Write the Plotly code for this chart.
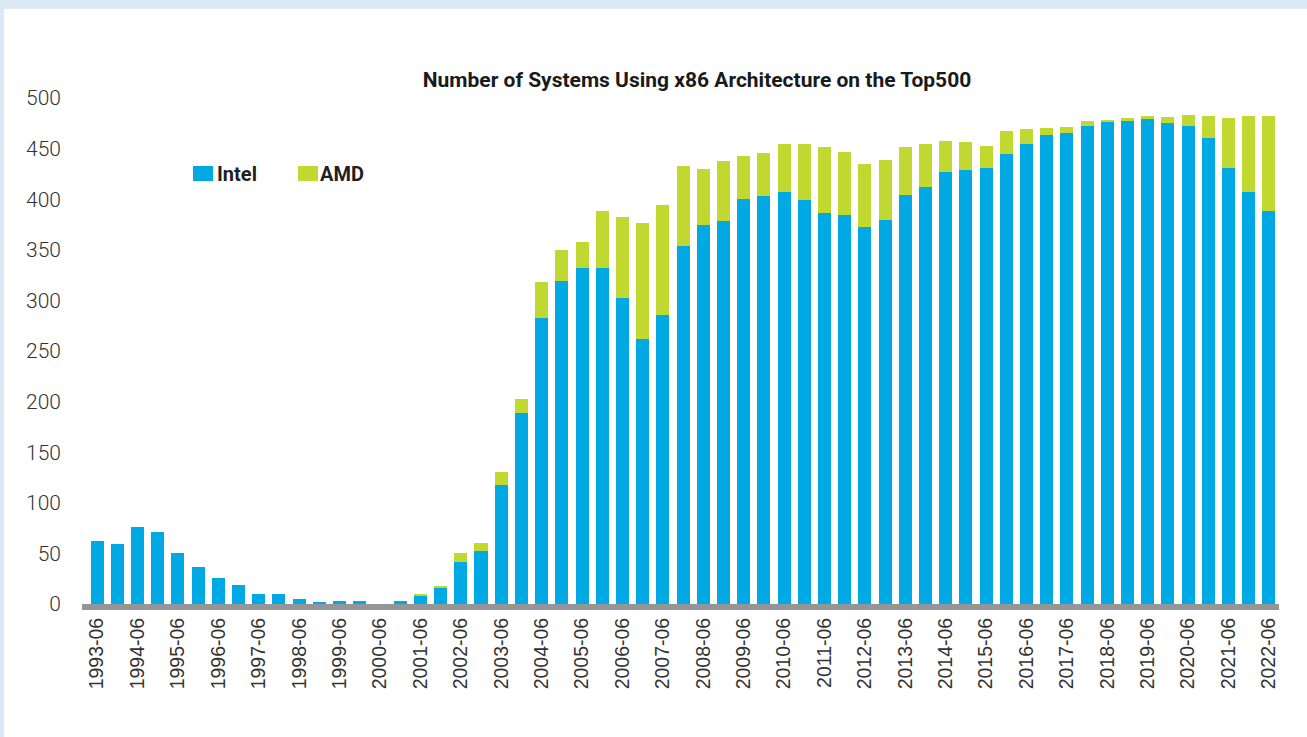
import plotly.graph_objects as go

periods = [
    "1993-06", "1993-11", "1994-06", "1994-11", "1995-06", "1995-11", "1996-06", "1996-11",
    "1997-06", "1997-11", "1998-06", "1998-11", "1999-06", "1999-11", "2000-06", "2000-11",
    "2001-06", "2001-11", "2002-06", "2002-11", "2003-06", "2003-11", "2004-06", "2004-11",
    "2005-06", "2005-11", "2006-06", "2006-11", "2007-06", "2007-11", "2008-06", "2008-11",
    "2009-06", "2009-11", "2010-06", "2010-11", "2011-06", "2011-11", "2012-06", "2012-11",
    "2013-06", "2013-11", "2014-06", "2014-11", "2015-06", "2015-11", "2016-06", "2016-11",
    "2017-06", "2017-11", "2018-06", "2018-11", "2019-06", "2019-11", "2020-06", "2020-11",
    "2021-06", "2021-11", "2022-06",
]

intel = [
    62, 59, 76, 71, 50, 37, 26, 19, 10, 10,
    5, 2, 3, 3, 0, 3, 8, 16, 42, 52,
    118, 189, 283, 319, 332, 332, 302, 262, 286, 354,
    375, 378, 400, 403, 407, 399, 386, 384, 373, 379,
    404, 412, 427, 429, 431, 445, 455, 463, 465, 472,
    476, 477, 479, 475, 472, 460, 431, 407, 388,
]

amd = [
    0, 0, 0, 0, 0, 0, 0, 0, 0, 0,
    0, 0, 0, 0, 0, 0, 1, 1, 8, 8,
    12, 14, 35, 31, 26, 56, 80, 114, 108, 79,
    55, 60, 43, 43, 48, 56, 66, 63, 62, 60,
    48, 43, 31, 28, 22, 22, 14, 7, 6, 5,
    2, 3, 3, 6, 11, 22, 49, 75, 94,
]

tick_labels = [p for p in periods if p.endswith("-06")]
y_ticks = [0, 50, 100, 150, 200, 250, 300, 350, 400, 450, 500]

title_text = "Number of Systems Using x86 Architecture on the Top500"
series_names = ["Intel", "AMD"]
colors = ["#00A9E3", "#C0D82F"]

W, H = 1307, 737
L, R, T, B = 82, 28, 98, 133
pw, ph = W - L - R, H - T - B


def px(x):
    return (x - L) / pw


def py(y):
    return 1 - (y - T) / ph


fig = go.Figure()
fig.add_trace(go.Bar(x=periods, y=intel, name=series_names[0],
                     marker=dict(color=colors[0], line=dict(width=0))))
fig.add_trace(go.Bar(x=periods, y=amd, name=series_names[1],
                     marker=dict(color=colors[1], line=dict(width=0))))

shapes = [
    # light-blue frame
    dict(type="rect", xref="paper", yref="paper", x0=px(0), x1=px(W), y0=py(0), y1=py(9),
         fillcolor="#DBEAF4", line=dict(width=0), layer="below"),
    dict(type="rect", xref="paper", yref="paper", x0=px(0), x1=px(4), y0=py(0), y1=py(H),
         fillcolor="#DBEAF4", line=dict(width=0), layer="below"),
    # legend swatches
    dict(type="rect", xref="paper", yref="paper", x0=px(193), x1=px(213), y0=py(181), y1=py(166),
         fillcolor=colors[0], line=dict(width=0)),
    dict(type="rect", xref="paper", yref="paper", x0=px(298), x1=px(318), y0=py(181), y1=py(166),
         fillcolor=colors[1], line=dict(width=0)),
]

legend_font = dict(family="Roboto", size=20, color="#231F20", weight=700)
annotations = [
    dict(text=series_names[0], xref="paper", yref="paper", x=px(215), y=py(173.5),
         xanchor="left", yanchor="middle", showarrow=False, font=legend_font),
    dict(text=series_names[1], xref="paper", yref="paper", x=px(318), y=py(173.5),
         xanchor="left", yanchor="middle", showarrow=False, font=legend_font),
]

fig.update_layout(
    width=W, height=H,
    margin=dict(l=L, r=R, t=T, b=B, pad=0),
    paper_bgcolor="white", plot_bgcolor="white",
    barmode="stack", bargap=0.356,
    showlegend=False,
    title=dict(text=title_text, xref="container", yref="container",
               x=697 / W, y=1 - 80 / H, xanchor="center", yanchor="middle",
               font=dict(family="Roboto", size=21, color="#1A1A1A", weight=700)),
    shapes=shapes, annotations=annotations,
    xaxis=dict(type="category", range=[-0.75, 58.5],
               tickmode="array", tickvals=tick_labels, ticktext=tick_labels,
               tickangle=-90, tickfont=dict(family="Liberation Sans", size=19.5, color="#333333"),
               showline=True, linecolor="#939598", linewidth=6,
               showgrid=False, zeroline=False, ticks=""),
    yaxis=dict(range=[0, 500], tickmode="array", tickvals=y_ticks,
               tickfont=dict(family="Roboto", size=21, color="#333333", weight=300),
               showgrid=False, zeroline=False, showline=False, ticks="",
               ticklabelstandoff=20),
)

fig.write_html("out.html")
